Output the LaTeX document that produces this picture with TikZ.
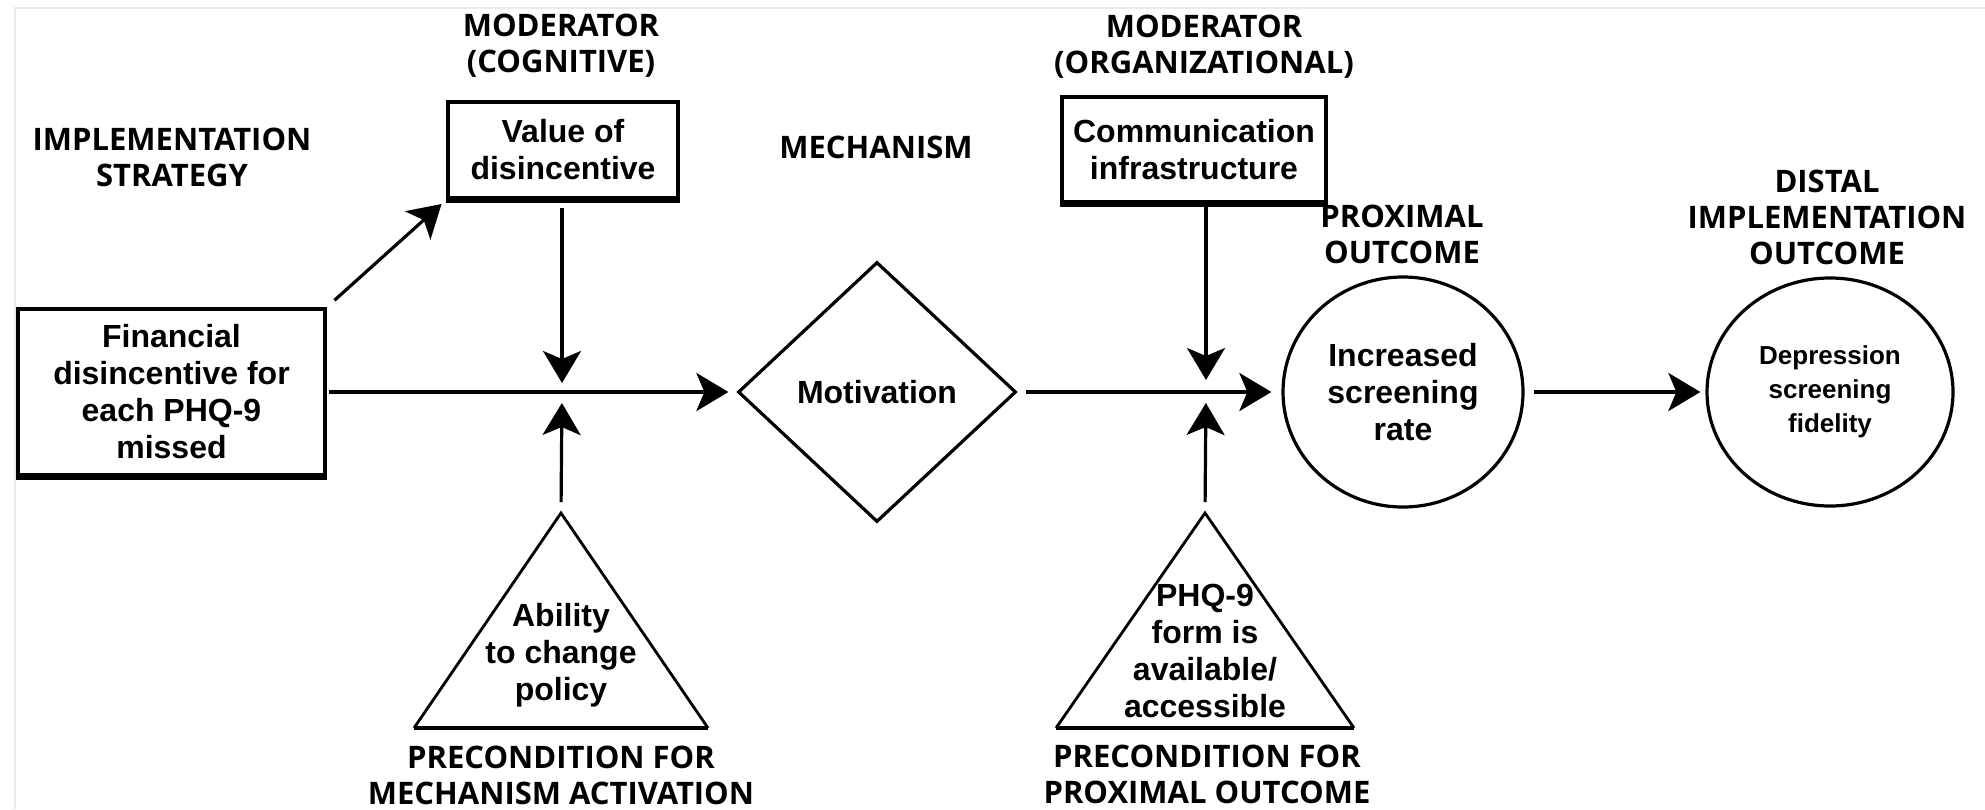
\documentclass[tikz,border=0pt]{standalone}
\usepackage{fontspec}
\setmainfont{Liberation Sans}
\newfontfamily\headfont{Open Sans}
\usetikzlibrary{arrows.meta,shapes.geometric}

\tikzset{
  head/.style={font=\headfont\bfseries\fontsize{15.5pt}{18pt}\selectfont,
    align=center, inner sep=0pt},
  body/.style={font=\bfseries\fontsize{16pt}{18.5pt}\selectfont, align=center},
  small/.style={font=\bfseries\fontsize{13pt}{17pt}\selectfont, align=center},
  box/.style={body, draw, line width=2pt, inner sep=0pt},
  outline/.style={draw, line width=1.6pt, line join=miter},
  triside/.style={line width=1.4pt, line join=miter},
  heavyedge/.style={line width=2.6pt, line cap=butt},
  tip/.style={-{Stealth[length=16pt,width=19pt,inset=4pt]}},
  conn/.style={tip, line width=1.6pt},
  mainconn/.style={tip, line width=2pt},
}

\begin{document}
\begin{tikzpicture}[x=0.5pt, y=-0.5pt]
\useasboundingbox (0,0) rectangle (1985,809);
\fill[white] (0,0) rectangle (1985,809);

% faint frame of the figure
\draw[black!8, line width=1pt] (15,809) -- (15,8) -- (1985,8);

% column headings
\node[head] (hImpl) at (172,157.5) {IMPLEMENTATION\\STRATEGY};
\node[head] (hModC) at (561,45.5)  {MODERATOR\\(COGNITIVE)};
\node[head] (hMech) at (876,147)   {MECHANISM};
\node[head] (hModO) at (1204,46.5) {MODERATOR\\(ORGANIZATIONAL)};
\node[head] (hProx) at (1402,234.5) {PROXIMAL\\OUTCOME};
\node[head] (hDist) at (1827,217)  {DISTAL\\IMPLEMENTATION\\OUTCOME};
\node[head] (hPre1) at (561,775)   {PRECONDITION FOR\\MECHANISM ACTIVATION};
\node[head] (hPre2) at (1207,774.5) {PRECONDITION FOR\\PROXIMAL OUTCOME};

% rectangles
\node[box, minimum width=153.5pt, minimum height=83pt] (fin) at (171.5,392)
  {Financial\\disincentive for\\each PHQ-9\\missed};
\node[box, minimum width=115pt, minimum height=48pt] (val) at (563,150)
  {Value of\\disincentive};
\node[box, minimum width=132pt, minimum height=52.5pt] (comm) at (1194,149.5)
  {Communication\\infrastructure};
% slightly heavier lower edges of the boxes
\draw[heavyedge] (fin.south west) -- (fin.south east);
\draw[heavyedge] (val.south west) -- (val.south east);
\draw[heavyedge] (comm.south west) -- (comm.south east);

% mechanism
\node[diamond, outline, body, inner sep=0pt, minimum width=139pt,
  minimum height=130pt] (mot) at (877,392) {Motivation};

% outcomes
\node[ellipse, outline, body, inner sep=0pt, minimum width=120pt,
  minimum height=115pt] (rate) at (1403,392) {Increased\\screening\\rate};
\node[ellipse, outline, small, inner sep=0pt, minimum width=123pt,
  minimum height=114pt] (fid) at (1830,392)
  {\raisebox{4.5pt}{\begin{tabular}{@{}c@{}}Depression\\screening\\fidelity\end{tabular}}};

% preconditions
\coordinate (apex1) at (561,513);
\coordinate (apex2) at (1205,513);
\coordinate (base1l) at (414,728);
\coordinate (base1r) at (708,728);
\coordinate (base2l) at (1056,728);
\coordinate (base2r) at (1354,728);
\draw[triside] (base1l) -- (apex1) -- (base1r);
\draw[triside] (base2l) -- (apex2) -- (base2r);
\draw[line width=2.2pt] (base1l) -- (base1r);
\draw[line width=2.2pt] (base2l) -- (base2r);
\node[body] (abil) at (561,655) {Ability\\to change\\policy};
\node[body] (phq) at (1205,651) {PHQ-9\\form is\\available/\\accessible};

% points where moderators and preconditions meet the main path
\coordinate (j1) at (562,392);
\coordinate (j2) at (1206,392);

% connectors
\draw[conn, shorten <=5pt, shorten >=3pt] (fin.north east) -- (val.south west);
\draw[conn, shorten <=4pt, shorten >=4.5pt] (val.south -| j1) -- (j1);
\draw[conn, shorten <=5.5pt, shorten >=5.5pt] (apex1) -- (j1);
\draw[mainconn, shorten <=1pt, shorten >=4pt] (fin.east) -- (mot.west);
\draw[mainconn, shorten <=4pt, shorten >=5pt] (mot.east) -- (rate.west);
\draw[conn, shorten >=6pt] (comm.south -| j2) -- (j2);
\draw[conn, shorten <=5.5pt, shorten >=5.5pt] (apex2) -- (j2);
\draw[mainconn, shorten <=4.5pt, shorten >=2.5pt] (rate.east) -- (fid.west);
\end{tikzpicture}
\end{document}
